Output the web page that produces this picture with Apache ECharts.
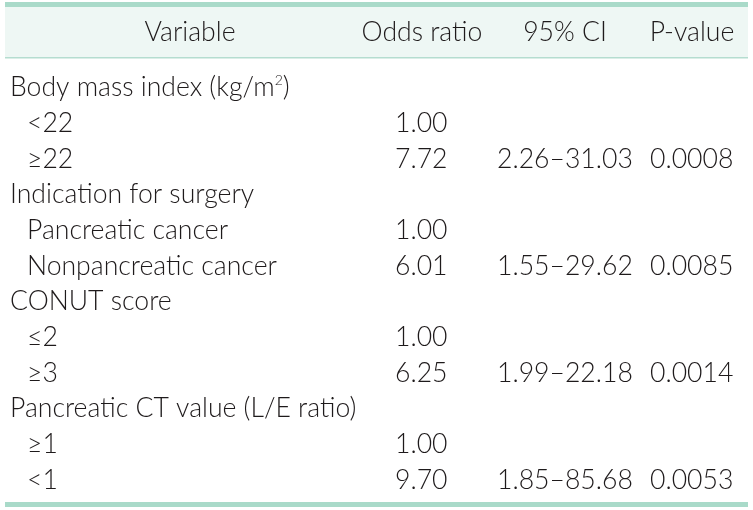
<!DOCTYPE html>
<html><head><meta charset="utf-8">
<script src="https://cdn.jsdelivr.net/npm/echarts@6/dist/echarts.min.js"></script>
<style>html,body{margin:0;padding:0;background:#fff}#c{width:753px;height:510px}</style>
</head><body><div id="c"></div>
<script>
// ---- data ----
const headers = ['Variable', 'Odds ratio', '95% CI', 'P-value'];
const variables = ['Body mass index (kg/m{sup|2})', '<22', '≥22', 'Indication for surgery', 'Pancreatic cancer', 'Nonpancreatic cancer', 'CONUT score', '≤2', '≥3', 'Pancreatic CT value (L/E ratio)', '≥1', '<1'];
const rowLevel = [0, 1, 1, 0, 1, 1, 0, 1, 1, 0, 1, 1];
const oddsRatio = ['', '1.00', '7.72', '', '1.00', '6.01', '', '1.00', '6.25', '', '1.00', '9.70'];
const ci95 = ['', '', '2.26–31.03', '', '', '1.55–29.62', '', '', '1.99–22.18', '', '', '1.85–85.68'];
const pValue = ['', '', '0.0008', '', '', '0.0085', '', '', '0.0014', '', '', '0.0053'];

// ---- layout (pixel scale of the x axis) ----
const W = 753;
const headerCenter = [190, 422, 565, 692];
const colLeft = [10, 395, 497, 650];
const indent = 17;
const FONT = 'Lato, "Open Sans", sans-serif';
const FS = 26.6;
const TXT = '#1e1a1b';

const rowIdx = variables.map((_, i) => i);
const cells = [];
variables.forEach((v, i) => {
  cells.push({ value: [colLeft[0] + (rowLevel[i] ? indent : 0), i], text: v });
  [oddsRatio, ci95, pValue].forEach((arr, c) => {
    if (arr[i]) cells.push({ value: [colLeft[c + 1], i], text: arr[i] });
  });
});
const headCells = headers.map((h, c) => ({ value: [headerCenter[c], 0], text: h }));

function textItem(list, align) {
  return function (params, api) {
    const p = api.coord([api.value(0), api.value(1)]);
    return {
      type: 'text', x: p[0], y: p[1],
      style: {
        text: list[params.dataIndex].text,
        fill: TXT, fontFamily: FONT, fontSize: FS, fontWeight: 300,
        align: align, verticalAlign: 'middle',
        rich: { sup: { fontSize: 14, fill: TXT, fontFamily: FONT, fontWeight: 300, padding: [0, 0, 14, 0] } }
      }
    };
  };
}

const chart = echarts.init(document.getElementById('c'), null, { renderer: 'canvas' });
chart.setOption({
  animation: false,
  backgroundColor: '#fff',
  graphic: [
    { type: 'rect', shape: { x: 5, y: 7, width: 743, height: 50 }, style: { fill: '#eef7f4' }, z: 0 },
    { type: 'rect', shape: { x: 5, y: 2, width: 743, height: 5 }, style: { fill: '#a9dac9' }, z: 1 },
    { type: 'rect', shape: { x: 5, y: 57, width: 743, height: 1.5 }, style: { fill: '#b5ddd0' }, z: 1 },
    { type: 'rect', shape: { x: 5, y: 502, width: 743, height: 5 }, style: { fill: '#a9dac9' }, z: 1 }
  ],
  grid: [
    { left: 0, width: W, top: 7, height: 50 },
    { left: 0, width: W, top: 70, height: 428 }
  ],
  xAxis: [
    { type: 'value', gridIndex: 0, min: 0, max: W, show: false },
    { type: 'value', gridIndex: 1, min: 0, max: W, show: false }
  ],
  yAxis: [
    { type: 'category', gridIndex: 0, data: ['header'], show: false },
    { type: 'category', gridIndex: 1, data: rowIdx, inverse: true, show: false }
  ],
  series: [
    { type: 'custom', xAxisIndex: 0, yAxisIndex: 0, data: headCells, renderItem: textItem(headCells, 'center'), z: 5 },
    { type: 'custom', xAxisIndex: 1, yAxisIndex: 1, data: cells, renderItem: textItem(cells, 'left'), z: 5 }
  ]
});
</script></body></html>
